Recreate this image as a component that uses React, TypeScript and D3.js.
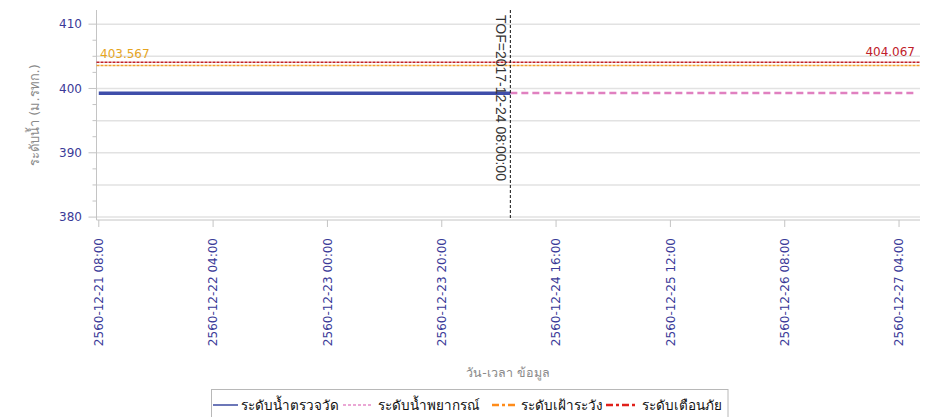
import React from "react";
import * as d3 from "d3";

// ---- data ----
const observedTimes = ["2017-12-21T08:00", "2017-12-22T08:00", "2017-12-23T08:00", "2017-12-24T08:00"];
const observedValues = [399.25, 399.25, 399.25, 399.25];
const forecastTimes = ["2017-12-24T08:00", "2017-12-25T08:00", "2017-12-26T08:00", "2017-12-27T07:00"];
const forecastValues = [399.3, 399.3, 399.3, 399.3];
const watchLevel = 403.567;
const alertLevel = 404.067;
const tofTime = "2017-12-24T08:00";
const tofLabel = "TOF=2017-12-24 08:00:00";
const xTickTimes = [
  "2017-12-21T08:00", "2017-12-22T04:00", "2017-12-23T00:00", "2017-12-23T20:00",
  "2017-12-24T16:00", "2017-12-25T12:00", "2017-12-26T08:00", "2017-12-27T04:00",
];
const yTicks = [380, 390, 400, 410];
const yGrid = [380, 385, 390, 395, 400, 405, 410];
const yMinor = [382.5, 387.5, 392.5, 397.5, 402.5, 407.5];
const legendLabels = ["ระดับน้ำตรวจวัด", "ระดับน้ำพยากรณ์", "ระดับเฝ้าระวัง", "ระดับเตือนภัย"];
const yTitle = "ระดับน้ำ (ม.รทก.)";
const xTitle = "วัน-เวลา ข้อมูล";

const parse = (s: string) => new Date(s);

const W = 926, H = 417;
const left = 96.5, right = 920, top = 10, bottom = 220;

const x = d3.scaleTime()
  .domain([parse("2017-12-21T07:36"), parse("2017-12-27T07:40")])
  .range([left, right]);
const y = d3.scaleLinear().domain([379.55, 412.2]).range([bottom, top]);

const fmtTick = (d: Date) => {
  const by = d.getFullYear() + 543;
  return `${by}-${d3.timeFormat("%m-%d %H:%M")(d)}`;
};

const line = d3.line<[Date, number]>().x((d) => x(d[0])).y((d) => y(d[1]));

const FONT = "'DejaVu Sans', Tahoma, Verdana, sans-serif";
const TICK_COLOR = "#3a3a98";

export default function App() {
  const obs: [Date, number][] = observedTimes.map((t, i) => [parse(t), observedValues[i]]);
  const fc: [Date, number][] = forecastTimes.map((t, i) => [parse(t), forecastValues[i]]);
  const tofX = x(parse(tofTime));

  const legendItems = [
    { x1: 213, x2: 238, color: "#3b4aa0", dash: "none", w: 1.5, tx: 241 },
    { x1: 343, x2: 373, color: "#e58ac8", dash: "3,2", w: 1.5, tx: 378 },
    { x1: 492, x2: 515, color: "#ff8c1a", dash: "7,3,3,3", w: 2.5, tx: 521 },
    { x1: 606, x2: 636, color: "#e0201a", dash: "7,3,3,3", w: 2.5, tx: 642 },
  ];

  return (
    <svg width={W} height={H} style={{ position: "absolute", left: 0, top: 0, background: "#fff" }} fontFamily={FONT}>
      {/* grid */}
      {yGrid.map((v) => (
        <line key={"g" + v} x1={left} x2={right} y1={y(v)} y2={y(v)} stroke="#e2e2e2" strokeWidth={1.5} />
      ))}
      {/* axes */}
      <line x1={left} x2={left} y1={top} y2={bottom} stroke="#c4c4c4" />
      <line x1={left} x2={right} y1={bottom} y2={bottom} stroke="#c4c4c4" />
      {yTicks.map((v) => (
        <g key={"yt" + v}>
          <line x1={left - 8} x2={left} y1={y(v)} y2={y(v)} stroke="#c4c4c4" />
          <text x={82} y={y(v)} dy="0.35em" textAnchor="end" fontSize={12} fill={TICK_COLOR}>{v}</text>
        </g>
      ))}
      {yGrid.filter((v) => !yTicks.includes(v)).concat(yMinor).map((v) => (
        <line key={"ym" + v} x1={left - 4} x2={left} y1={y(v)} y2={y(v)} stroke="#c4c4c4" />
      ))}
      {xTickTimes.map((t) => {
        const d = parse(t);
        const xx = x(d);
        return (
          <g key={"xt" + t}>
            <line x1={xx} x2={xx} y1={bottom} y2={bottom + 7} stroke="#c4c4c4" />
            <text transform={`translate(${xx},238) rotate(-90)`} dy="0.35em" textAnchor="end" fontSize={12} fill={TICK_COLOR}>
              {fmtTick(d)}
            </text>
          </g>
        );
      })}
      {/* titles */}
      <text transform={`translate(39,${(top + bottom) / 2}) rotate(-90)`} textAnchor="middle" fontSize={13} fill="#8a8a8a">{yTitle}</text>
      <text x={508} y={377} textAnchor="middle" fontSize={12.5} fill="#8a8a8a">{xTitle}</text>

      {/* thresholds */}
      <line x1={left} x2={right} y1={y(watchLevel)} y2={y(watchLevel)} stroke="#f0a030" strokeWidth={1.5} strokeDasharray="3,1" />
      <line x1={left} x2={right} y1={y(alertLevel)} y2={y(alertLevel)} stroke="#c0202a" strokeWidth={1.5} strokeDasharray="3,1" />
      <text x={100} y={58} fontSize={12} fill="#e6a51e">{watchLevel.toFixed(3)}</text>
      <text x={915} y={56} textAnchor="end" fontSize={12} fill="#c0202a">{alertLevel.toFixed(3)}</text>

      {/* series */}
      <path d={line(fc) || ""} fill="none" stroke="#e080c0" strokeWidth={2.5} strokeDasharray="7,4" />
      <path d={line(obs) || ""} fill="none" stroke="#3f4eaa" strokeWidth={3.5} />

      {/* TOF */}
      <line x1={tofX} x2={tofX} y1={top} y2={bottom} stroke="#111" strokeWidth={1} strokeDasharray="3,2" />
      <text transform={`translate(${tofX - 14},15) rotate(90)`} fontSize={14} fill="#333" fontFamily="'Liberation Sans', Arial, sans-serif">{tofLabel}</text>

      {/* legend */}
      <rect x={211.5} y={389.5} width={516.5} height={30} fill="#fff" stroke="#b8b8b8" />
      {legendItems.map((it, i) => (
        <g key={"lg" + i}>
          <line x1={it.x1} x2={it.x2} y1={405} y2={405} stroke={it.color} strokeWidth={it.w} strokeDasharray={it.dash} />
          <text x={it.tx} y={405} dy="0.35em" fontSize={13.5} fill="#111">{legendLabels[i]}</text>
        </g>
      ))}
    </svg>
  );
}
